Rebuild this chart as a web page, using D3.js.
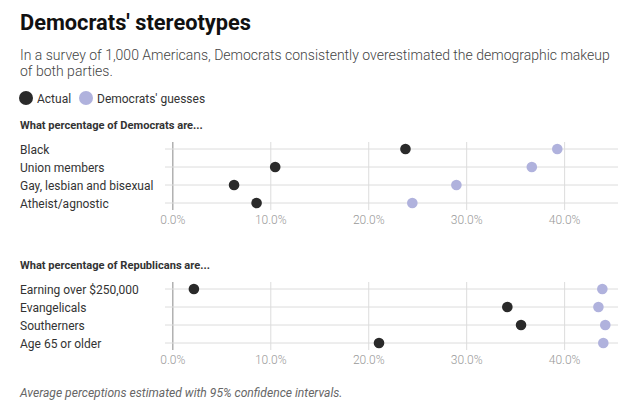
<!DOCTYPE html>
<html>
<head>
<meta charset="utf-8">
<script src="https://cdn.jsdelivr.net/npm/d3@7"></script>
<style>
  html, body { margin: 0; padding: 0; background: #fff; }
  svg { display: block; font-family: Roboto, "Noto Sans", sans-serif; }
</style>
</head>
<body>
<svg id="chart" width="632" height="405"></svg>
<script>
// ---- data ----
const demCategories = ["Black", "Union members", "Gay, lesbian and bisexual", "Atheist/agnostic"];
const demActual = [23.8, 10.5, 6.3, 8.6];
const demGuess = [39.3, 36.7, 29.0, 24.5];

const repCategories = ["Earning over $250,000", "Evangelicals", "Southerners", "Age 65 or older"];
const repActual = [2.2, 34.2, 35.6, 21.1];
const repGuess = [43.9, 43.5, 44.2, 44.0];

const tickValues = [0, 10, 20, 30, 40];
const seriesNames = ["Actual", "Democrats' guesses"];
const panelTitles = ["What percentage of Democrats are...", "What percentage of Republicans are..."];

// ---- styles ----
const colActual = "#2a2a2a";
const colGuess = "#b0b2dd";

const svg = d3.select("#chart");

svg.append("text").attr("x", 20).attr("y", 30)
  .attr("font-size", 21.8).attr("font-weight", 700).attr("fill", "#111")
  .text("Democrats' stereotypes");

const sub = svg.append("text").attr("font-size", 14).attr("fill", "#444").attr("font-weight", 300);
sub.append("tspan").attr("x", 20).attr("y", 60)
  .text("In a survey of 1,000 Americans, Democrats consistently overestimated the demographic makeup");
sub.append("tspan").attr("x", 20).attr("y", 76).text("of both parties.");

// legend
const legend = svg.append("g");
const legendX = [26, 86];
const legendCols = [colActual, colGuess];
seriesNames.forEach((n, i) => {
  legend.append("circle").attr("cx", legendX[i]).attr("cy", 98).attr("r", 7).attr("fill", legendCols[i]);
  legend.append("text").attr("x", legendX[i] + 11).attr("y", 102.5)
    .attr("font-size", 12).attr("fill", "#333").text(n);
});

const x = d3.scaleLinear().domain([-0.75, 45.5]).range([165, 618]);

function panel(top, title, cats, actual, guess) {
  const g = svg.append("g");
  g.append("text").attr("x", 20).attr("y", top)
    .attr("font-size", 11.1).attr("font-weight", 700).attr("fill", "#333").text(title);

  const y = d3.scalePoint().domain(cats).range([top + 20, top + 74]);
  const gridTop = top + 13, gridBottom = top + 81;

  // vertical gridlines + labels via axis
  const axis = d3.axisBottom(x).tickValues(tickValues)
    .tickFormat(d => d.toFixed(1) + "%")
    .tickSize(-(gridBottom - gridTop)).tickPadding(5);
  const ag = g.append("g").attr("transform", `translate(0,${gridBottom})`).call(axis);
  ag.select(".domain").remove();
  ag.selectAll(".tick line").attr("stroke", d => d === 0 ? "#8a8a8a" : "#dcdcdc").attr("stroke-width", 1);
  ag.selectAll(".tick text").attr("fill", "#999").attr("font-size", 12)
    .attr("font-family", "Roboto, sans-serif").attr("font-weight", 300);

  // horizontal lines
  g.selectAll("line.row").data(cats).join("line").attr("class", "row")
    .attr("x1", x(-0.75)).attr("x2", x(45.5))
    .attr("y1", d => y(d)).attr("y2", d => y(d))
    .attr("stroke", "#dcdcdc").attr("stroke-width", 1);

  // row labels
  g.selectAll("text.lbl").data(cats).join("text").attr("class", "lbl")
    .attr("x", 20).attr("y", d => y(d) + 4.5)
    .attr("font-size", 12).attr("fill", "#333").text(d => d);

  // dots
  g.selectAll("circle.guess").data(cats).join("circle").attr("class", "guess")
    .attr("cx", (d, i) => x(guess[i])).attr("cy", d => y(d)).attr("r", 5.3).attr("fill", colGuess);
  g.selectAll("circle.act").data(cats).join("circle").attr("class", "act")
    .attr("cx", (d, i) => x(actual[i])).attr("cy", d => y(d)).attr("r", 5.3).attr("fill", colActual);
}

panel(129, panelTitles[0], demCategories, demActual, demGuess);
panel(269, panelTitles[1], repCategories, repActual, repGuess);

svg.append("text").attr("x", 20).attr("y", 397)
  .attr("font-size", 12.1).attr("font-style", "italic").attr("fill", "#666")
  .text("Average perceptions estimated with 95% confidence intervals.");
</script>
</body>
</html>
